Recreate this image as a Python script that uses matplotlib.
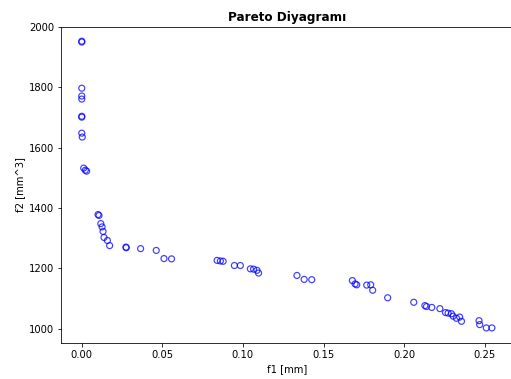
import matplotlib
matplotlib.use("Agg")
import matplotlib.pyplot as plt

f1 = [0.0, 0.0, 0.0, 0.0, 0.0, 0.0, 0.0, 0.0, 0.0003,
      0.0012, 0.0022, 0.0030,
      0.0101, 0.0107, 0.0118, 0.0126, 0.0132, 0.0138, 0.0159, 0.0173,
      0.0274, 0.0276, 0.0365, 0.0462, 0.0510, 0.0557,
      0.0840, 0.0860, 0.0877, 0.0947, 0.0984, 0.1046, 0.1066, 0.1087, 0.1097,
      0.1335, 0.1380, 0.1427,
      0.1679, 0.1696, 0.1706, 0.1768, 0.1793, 0.1805, 0.1898,
      0.2060, 0.2129, 0.2139, 0.2172, 0.2222, 0.2257, 0.2273, 0.2294, 0.2304,
      0.2325, 0.2345, 0.2356, 0.2465, 0.2469, 0.2510, 0.2545]
f2 = [1953, 1950, 1797, 1771, 1761, 1704, 1701, 1648, 1635,
      1532, 1525, 1522,
      1378, 1375, 1348, 1337, 1322, 1302, 1292, 1275,
      1270, 1268, 1265, 1259, 1232, 1231,
      1226, 1224, 1223, 1209, 1209, 1198, 1197, 1193, 1184,
      1176, 1163, 1162,
      1159, 1148, 1145, 1144, 1145, 1127, 1102,
      1087, 1076, 1073, 1070, 1066, 1053, 1051, 1049, 1041,
      1034, 1038, 1024, 1026, 1013, 1002, 1002]

fig = plt.figure(figsize=(511/72, 379/72), dpi=72)
ax = fig.add_axes([61.3/511, 36/379, (512.4-61.3)/511, (343-27)/379])
ax.scatter(f1, f2, s=36, facecolors='none', edgecolors='blue', alpha=0.75, linewidths=1.2)
ax.set_xlim(-0.0127, 0.2672)
ax.set_ylim(952, 2000)
ax.set_xticks([0.0, 0.05, 0.10, 0.15, 0.20, 0.25])
ax.set_yticks([1000, 1200, 1400, 1600, 1800, 2000])
ax.set_title("Pareto Diyagramı", fontweight='bold')
ax.set_xlabel("f1 [mm]")
ax.set_ylabel("f2 [mm^3]")
fig.savefig("out.png", dpi=72)
